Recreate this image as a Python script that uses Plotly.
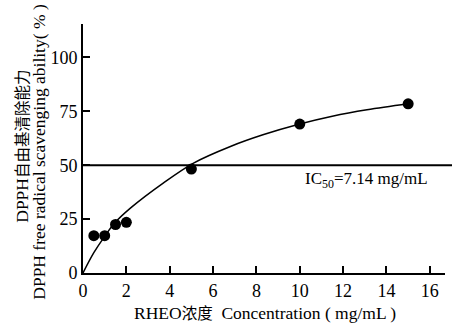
import plotly.graph_objects as go

# measured points
conc = [0.5, 1, 1.5, 2, 5, 10, 15]
scav = [17.3, 17.3, 22.5, 23.5, 48.2, 69.1, 78.5]

# fitted curve
curve_x = [0, 0.5, 1.0, 1.5, 2.2, 3.7, 5.1, 6.8, 8.3, 10.0, 11.5, 13.1, 15.0]
curve_y = [0, 9.4, 17.0, 23.6, 30.2, 41.7, 51.0, 58.7, 64.1, 69.1, 72.7, 75.7, 78.5]

ic50_level = 50
x_ticks = [0, 2, 4, 6, 8, 10, 12, 14, 16]
y_ticks = [0, 25, 50, 75, 100]

FONT = "Liberation Serif, Times New Roman, Noto Sans CJK SC, serif"
CJK = "font-family:'Noto Sans CJK SC';font-size:15.5px"

L, R, T, B = 83, 7, 24, 51.5
W, H = 452, 325
PW, PH = W - L - R, H - T - B


def px_x(px):
    return (px - L) / PW


def px_y(py):
    return (H - B - py) / PH


fig = go.Figure()
fig.add_trace(go.Scatter(x=curve_x, y=curve_y, mode="lines",
                         line=dict(color="black", width=1.5, shape="spline", smoothing=1.0),
                         showlegend=False, hoverinfo="skip"))
fig.add_trace(go.Scatter(x=conc, y=scav, mode="markers",
                         marker=dict(color="black", size=11),
                         showlegend=False))

fig.add_shape(type="line", xref="paper", yref="y", x0=0, x1=px_x(452),
              y0=ic50_level, y1=ic50_level, line=dict(color="black", width=2))

fig.add_annotation(text="IC<sub>50</sub>=7.14 mg/mL", xref="paper", yref="paper",
                   x=px_x(366), y=px_y(180), xanchor="center", yanchor="middle",
                   showarrow=False, font=dict(size=17, color="black", family=FONT))

fig.update_layout(
    width=W, height=H,
    margin=dict(l=L, r=R, t=T, b=B),
    paper_bgcolor="white", plot_bgcolor="white",
    font=dict(family=FONT, size=18, color="black"),
)

fig.update_xaxes(range=[0, 16.7], tickvals=x_ticks, ticks="inside", ticklen=7, tickwidth=2,
                 tickcolor="black", showline=True, linewidth=2, linecolor="black",
                 showgrid=False, zeroline=False,
                 tickfont=dict(size=18, family=FONT))
fig.update_yaxes(range=[0, 115.5], tickvals=y_ticks, ticks="inside", ticklen=7, tickwidth=2,
                 tickcolor="black", showline=True, linewidth=2, linecolor="black",
                 showgrid=False, zeroline=False,
                 tickfont=dict(size=18, family=FONT))

fig.add_annotation(text=f"RHEO<span style=\"{CJK}\">浓度</span>  Concentration ( mg/mL )",
                   xref="paper", yref="paper", x=px_x(265), y=px_y(313),
                   xanchor="center", yanchor="middle", showarrow=False,
                   font=dict(size=17.5, family=FONT))
fig.add_annotation(text=f"DPPH<span style=\"{CJK}\">自由基清除能力</span>", xref="paper", yref="paper",
                   x=px_x(21), y=px_y(147), textangle=-90, showarrow=False,
                   xanchor="center", yanchor="middle", font=dict(size=17.5, family=FONT))
fig.add_annotation(text="DPPH free radical scavenging ability( % )", xref="paper", yref="paper",
                   x=px_x(39), y=px_y(152), textangle=-90, showarrow=False,
                   xanchor="center", yanchor="middle", font=dict(size=17.5, family=FONT))

fig.write_html("out.html")
